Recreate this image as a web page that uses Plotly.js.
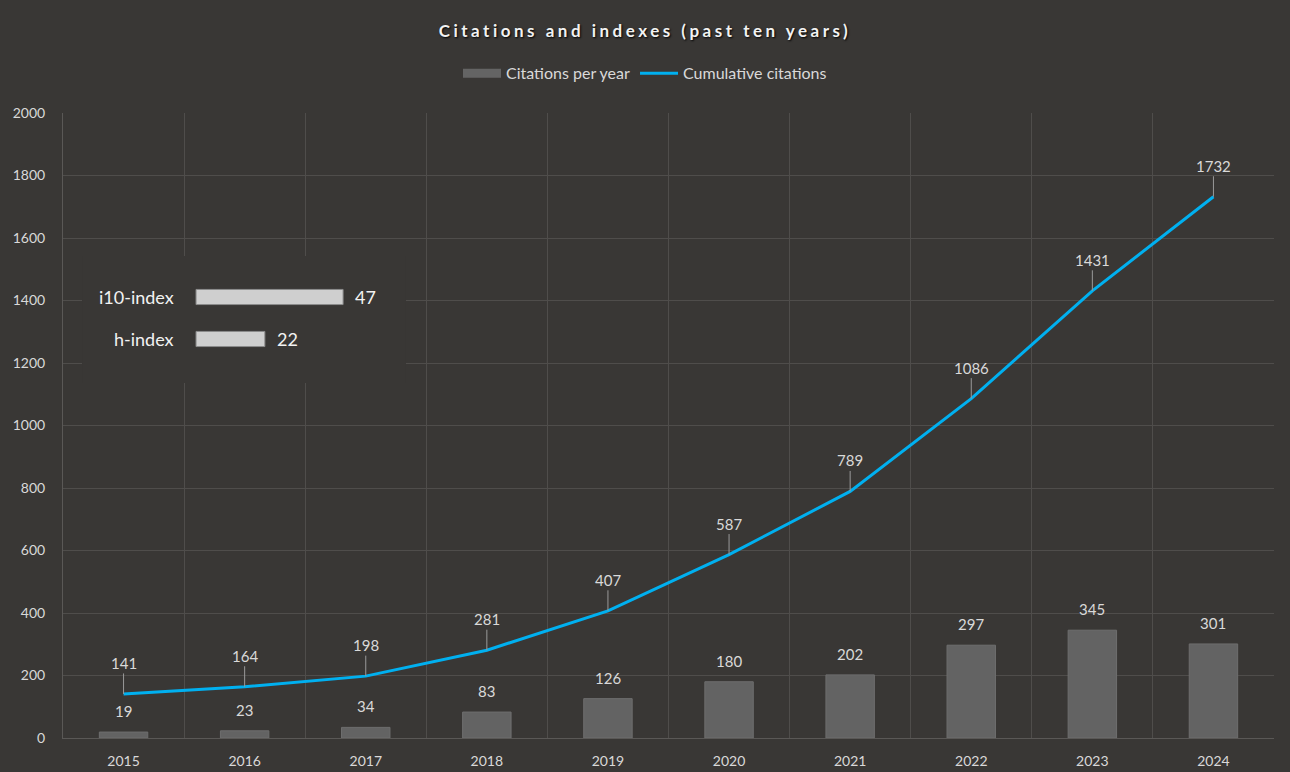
<!DOCTYPE html>
<html>
<head>
<meta charset="utf-8">
<script src="https://cdn.plot.ly/plotly-3.0.1.min.js"></script>
<style>
  html, body { margin: 0; padding: 0; background: #393735; }
  #chart { width: 1290px; height: 772px; }
  .gtitle { letter-spacing: 3.5px; }
</style>
</head>
<body>
<div id="chart"></div>
<script>
// ---- data ----
const years = ['2015','2016','2017','2018','2019','2020','2021','2022','2023','2024'];
const citationsPerYear = [19, 23, 34, 83, 126, 180, 202, 297, 345, 301];
const cumulativeCitations = [141, 164, 198, 281, 407, 587, 789, 1086, 1431, 1732];
const indexNames = ['h-index', 'i10-index'];
const indexValues = [22, 47];

const BG = '#393735';
const GRID = '#4f4d4b';
const TXT = '#d9d9d9';
const FONT = 'Lato, "Open Sans", sans-serif';

const traces = [
  {
    type: 'bar', x: years, y: citationsPerYear, name: 'Citations per year',
    width: 0.4, marker: {color: '#636363', line: {color: '#6e6e6e', width: 1}},
    showlegend: false, legendgroup: 'bars', hoverinfo: 'x+y'
  },
  {
    type: 'scatter', mode: 'lines', x: [null], y: [null], name: 'Citations per year',
    line: {color: '#646464', width: 9}, legendgroup: 'bars', hoverinfo: 'skip'
  },
  {
    type: 'scatter', mode: 'lines', x: years, y: cumulativeCitations, name: 'Cumulative citations',
    line: {color: '#00b0f0', width: 3}
  },
  {
    type: 'bar', orientation: 'h', x: indexValues, y: indexNames, xaxis: 'x2', yaxis: 'y2',
    width: 0.36, marker: {color: '#cfcfcf', line: {color: '#8c8c8c', width: 1}},
    showlegend: false, hoverinfo: 'x'
  }
];

const annotations = [];
years.forEach((yr, i) => {
  annotations.push({
    x: i, y: cumulativeCitations[i], xref: 'x', yref: 'y',
    text: String(cumulativeCitations[i]), showarrow: true, arrowhead: 0,
    arrowwidth: 1, arrowcolor: '#9a9a9a', ax: 0, ay: -31, standoff: 0,
    font: {family: FONT, size: 15, color: TXT}
  });
  annotations.push({
    x: i, y: citationsPerYear[i], xref: 'x', yref: 'y',
    text: String(citationsPerYear[i]), showarrow: false, yanchor: 'bottom', yshift: 10,
    font: {family: FONT, size: 15, color: TXT}
  });
});
indexNames.forEach((nm, i) => {
  annotations.push({
    x: 0, y: i, xref: 'x2', yref: 'y2', text: nm, showarrow: false,
    xanchor: 'right', xshift: -20, font: {family: FONT, size: 18, color: '#f2f2f2'}
  });
  annotations.push({
    x: indexValues[i], y: i, xref: 'x2', yref: 'y2', text: String(indexValues[i]), showarrow: false,
    xanchor: 'left', xshift: 10, font: {family: FONT, size: 18, color: '#f2f2f2'}
  });
});

const layout = {
  width: 1290, height: 772,
  paper_bgcolor: BG, plot_bgcolor: BG,
  margin: {l: 63, r: 16, t: 113, b: 34},
  font: {family: FONT, color: TXT, size: 13},
  title: {
    text: '<b>Citations and indexes (past ten years)</b>',
    x: 0.5, xref: 'container', xanchor: 'center', y: 0.96, yref: 'container', yanchor: 'middle',
    font: {family: FONT, size: 17, color: '#f2f2f2', shadow: '1px 1px 2px #000'}
  },
  legend: {
    orientation: 'h', x: 0.5, xanchor: 'center', xref: 'container',
    y: 0.905, yanchor: 'middle', yref: 'container',
    font: {family: FONT, size: 16, color: TXT}, itemwidth: 38,
    bgcolor: 'rgba(0,0,0,0)'
  },
  bargap: 0.6,
  xaxis: {
    type: 'category', range: [-0.5, 9.5], tickson: 'boundaries',
    showgrid: true, gridcolor: GRID, gridwidth: 1,
    showline: true, linecolor: '#5a5856', linewidth: 1, mirror: false,
    ticks: '', ticklabelstandoff: 10,
    tickfont: {family: FONT, size: 14, color: TXT}, zeroline: false, fixedrange: true
  },
  yaxis: {
    range: [0, 2000], dtick: 200, tick0: 0,
    showgrid: true, gridcolor: GRID, gridwidth: 1,
    showline: true, linecolor: '#5a5856', linewidth: 1,
    ticks: '', ticklabelstandoff: 14,
    tickfont: {family: FONT, size: 14, color: TXT}, zeroline: false, fixedrange: true
  },
  xaxis2: {
    domain: [0.0157, 0.2832], anchor: 'y2', range: [-36.45, 67.1],
    showgrid: false, zeroline: false, showticklabels: false, showline: false, fixedrange: true
  },
  yaxis2: {
    domain: [0.568, 0.7712], anchor: 'x2', type: 'category', range: [-1.048, 1.976],
    showgrid: false, zeroline: false, showticklabels: false, showline: false, fixedrange: true
  },
  annotations: annotations,
  showlegend: true
};

Plotly.newPlot('chart', traces, layout, {displayModeBar: false});
</script>
</body>
</html>
